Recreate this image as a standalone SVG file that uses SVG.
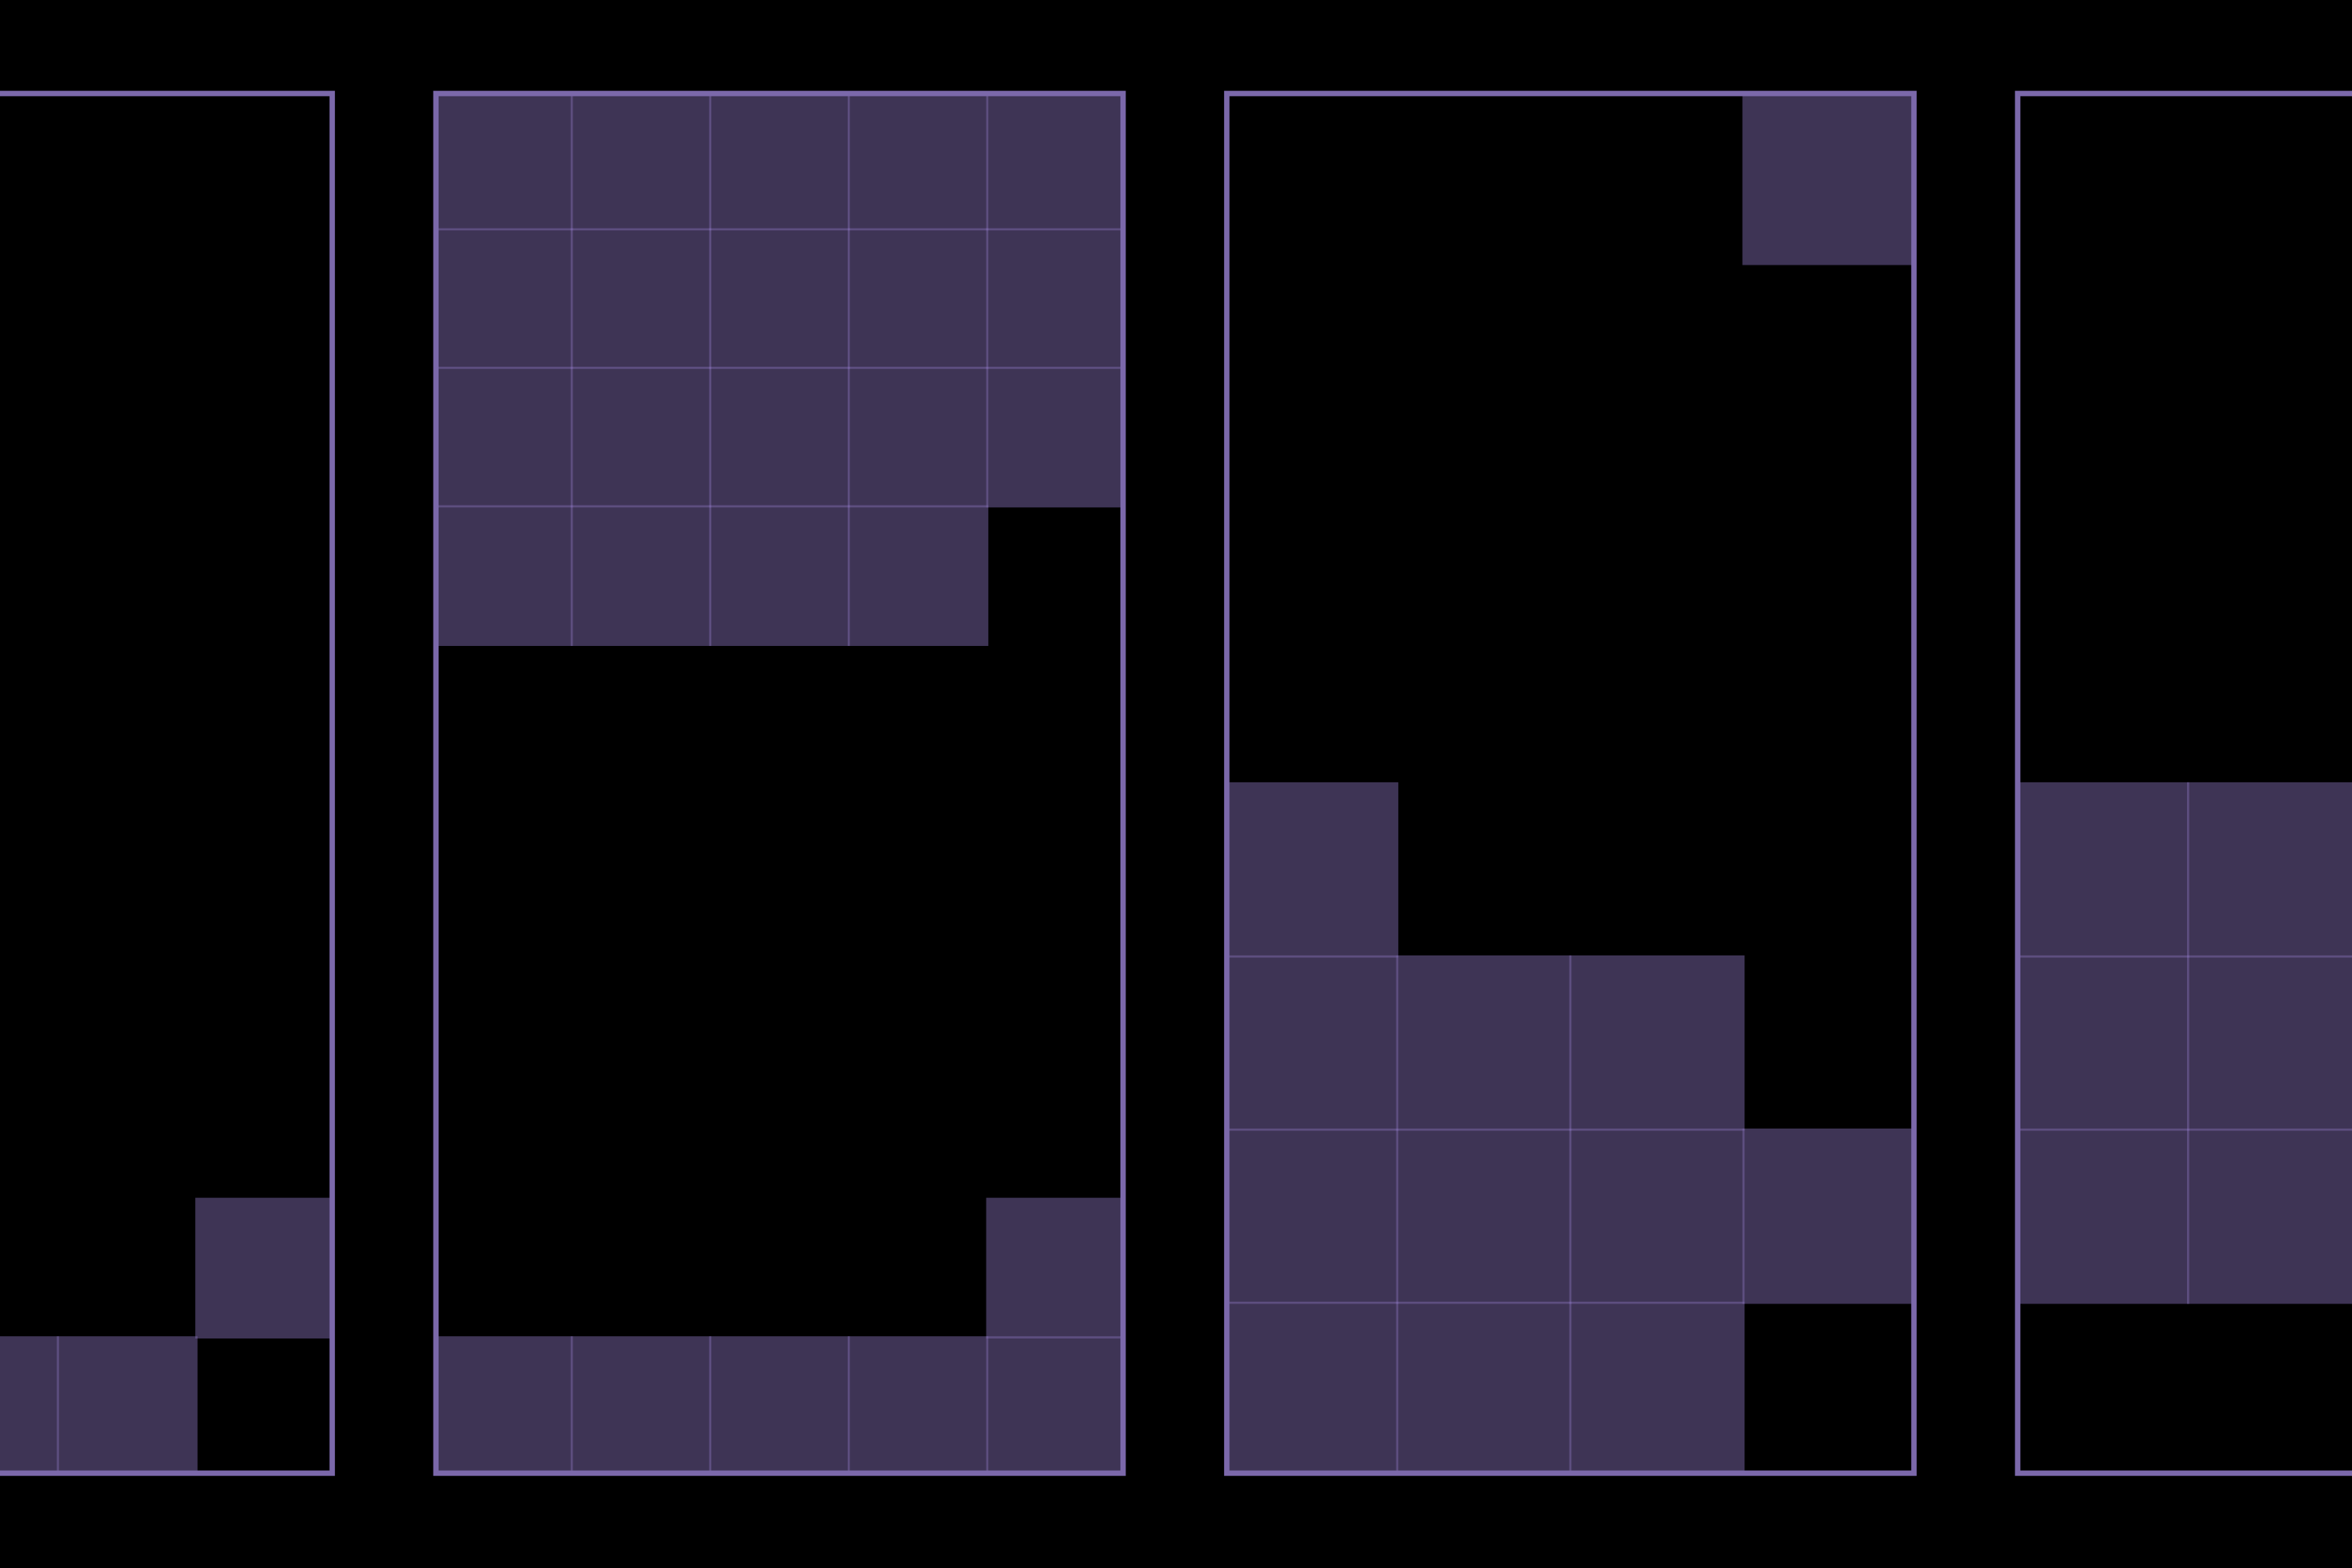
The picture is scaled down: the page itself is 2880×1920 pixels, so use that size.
<svg xmlns="http://www.w3.org/2000/svg" width="2880" height="1920" viewBox="0 0 2880 1920">
<style>
.c{fill:#7b68aa;fill-opacity:0.5}
.b{fill:none;stroke:#7b68aa;stroke-width:6.6}
</style>
<defs>
<clipPath id="k1"><rect x="-434.6" y="114.5" width="841.4" height="1689.4"/></clipPath>
<clipPath id="k2"><rect x="533.8" y="114.5" width="841.4" height="1689.4"/></clipPath>
<clipPath id="k3"><rect x="1502.2" y="114.5" width="841.4" height="1689.4"/></clipPath>
<clipPath id="k4"><rect x="2470.6" y="114.5" width="841.4" height="1689.4"/></clipPath>
</defs>
<rect x="0" y="0" width="2880" height="1920" fill="#000"/>
<g id="panel1">
<g clip-path="url(#k1)">
<rect class="c" x="-100.05" y="1636.25" width="172.3" height="172.3"/>
<rect class="c" x="69.55" y="1636.25" width="172.3" height="172.3"/>
<rect class="c" x="239.15" y="1466.65" width="172.3" height="172.3"/>
</g>
<rect class="b" x="-434.6" y="114.5" width="841.4" height="1689.4"/>
</g>
<g id="panel2">
<g clip-path="url(#k2)">
<rect class="c" x="529.15" y="109.85" width="172.3" height="172.3"/>
<rect class="c" x="698.75" y="109.85" width="172.3" height="172.3"/>
<rect class="c" x="868.35" y="109.85" width="172.3" height="172.3"/>
<rect class="c" x="1037.95" y="109.85" width="172.3" height="172.3"/>
<rect class="c" x="1207.55" y="109.85" width="172.3" height="172.3"/>
<rect class="c" x="529.15" y="279.45" width="172.3" height="172.3"/>
<rect class="c" x="698.75" y="279.45" width="172.3" height="172.3"/>
<rect class="c" x="868.35" y="279.45" width="172.3" height="172.3"/>
<rect class="c" x="1037.95" y="279.45" width="172.3" height="172.3"/>
<rect class="c" x="1207.55" y="279.45" width="172.3" height="172.3"/>
<rect class="c" x="529.15" y="449.05" width="172.3" height="172.3"/>
<rect class="c" x="698.75" y="449.05" width="172.3" height="172.3"/>
<rect class="c" x="868.35" y="449.05" width="172.3" height="172.3"/>
<rect class="c" x="1037.95" y="449.05" width="172.3" height="172.3"/>
<rect class="c" x="1207.55" y="449.05" width="172.3" height="172.3"/>
<rect class="c" x="529.15" y="618.65" width="172.3" height="172.3"/>
<rect class="c" x="698.75" y="618.65" width="172.3" height="172.3"/>
<rect class="c" x="868.35" y="618.65" width="172.3" height="172.3"/>
<rect class="c" x="1037.95" y="618.65" width="172.3" height="172.3"/>
<rect class="c" x="1207.55" y="1466.65" width="172.3" height="172.3"/>
<rect class="c" x="529.15" y="1636.25" width="172.3" height="172.3"/>
<rect class="c" x="698.75" y="1636.25" width="172.3" height="172.3"/>
<rect class="c" x="868.35" y="1636.25" width="172.3" height="172.3"/>
<rect class="c" x="1037.95" y="1636.25" width="172.3" height="172.3"/>
<rect class="c" x="1207.55" y="1636.25" width="172.3" height="172.3"/>
</g>
<rect class="b" x="533.8" y="114.5" width="841.4" height="1689.4"/>
</g>
<g id="panel3">
<g clip-path="url(#k3)">
<rect class="c" x="2133.55" y="109.85" width="214.7" height="214.7"/>
<rect class="c" x="1497.55" y="957.85" width="214.7" height="214.7"/>
<rect class="c" x="1497.55" y="1169.85" width="214.7" height="214.7"/>
<rect class="c" x="1709.55" y="1169.85" width="214.7" height="214.7"/>
<rect class="c" x="1921.55" y="1169.85" width="214.7" height="214.7"/>
<rect class="c" x="1497.55" y="1381.85" width="214.7" height="214.7"/>
<rect class="c" x="1709.55" y="1381.85" width="214.7" height="214.7"/>
<rect class="c" x="1921.55" y="1381.85" width="214.7" height="214.7"/>
<rect class="c" x="2133.55" y="1381.85" width="214.7" height="214.7"/>
<rect class="c" x="1497.55" y="1593.85" width="214.7" height="214.7"/>
<rect class="c" x="1709.55" y="1593.85" width="214.7" height="214.7"/>
<rect class="c" x="1921.55" y="1593.85" width="214.7" height="214.7"/>
</g>
<rect class="b" x="1502.2" y="114.5" width="841.4" height="1689.4"/>
</g>
<g id="panel4">
<g clip-path="url(#k4)">
<rect class="c" x="2465.95" y="957.85" width="214.7" height="214.7"/>
<rect class="c" x="2677.95" y="957.85" width="214.7" height="214.7"/>
<rect class="c" x="2465.95" y="1169.85" width="214.7" height="214.7"/>
<rect class="c" x="2677.95" y="1169.85" width="214.7" height="214.7"/>
<rect class="c" x="2465.95" y="1381.85" width="214.7" height="214.7"/>
<rect class="c" x="2677.95" y="1381.85" width="214.7" height="214.7"/>
</g>
<rect class="b" x="2470.6" y="114.5" width="841.4" height="1689.4"/>
</g>
<g id="connectors"/>
</svg>
